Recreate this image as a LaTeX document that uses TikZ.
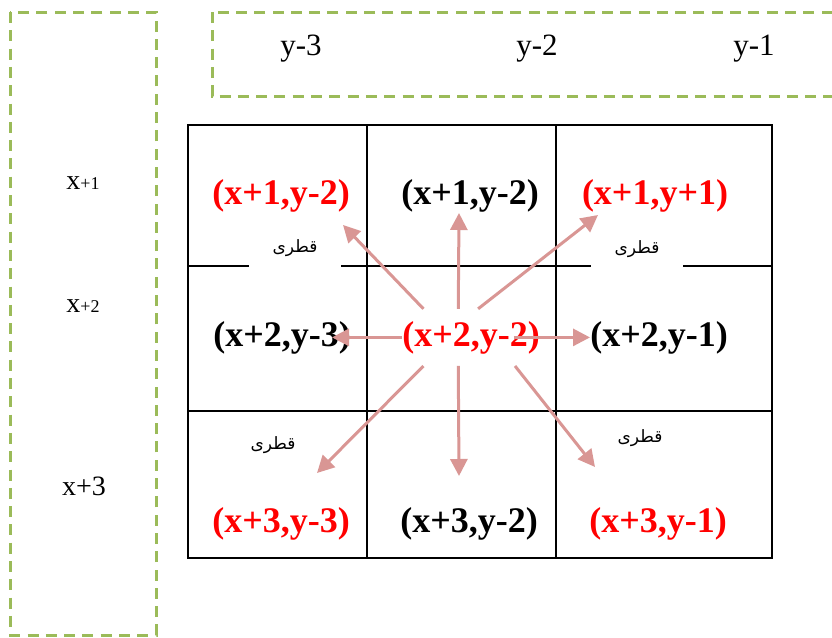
\documentclass[tikz,border=0pt]{standalone}
\usepackage{fontspec}
\setmainfont{Liberation Serif}
\newfontfamily\persianfont[Script=Arabic]{DejaVu Sans}
\TeXXeTstate=1
\usetikzlibrary{arrows.meta, positioning}
\definecolor{frameg}{RGB}{155, 187, 89}
\definecolor{hitred}{RGB}{255, 0, 0}
\definecolor{movepink}{RGB}{217, 150, 148}
\tikzstyle{cell}      = [anchor=base, font=\fontsize{36}{36}\selectfont\bfseries]
\tikzstyle{hit}       = [cell, text=hitred]
\tikzstyle{hub}       = [hit, inner ysep=12pt]
\tikzstyle{axislabel} = [anchor=base, font=\fontsize{31}{31}\selectfont]
\tikzstyle{rowlabel}  = [anchor=base, font=\fontsize{28}{28}\selectfont]
\tikzstyle{diag}      = [font=\persianfont\fontsize{17}{17}\selectfont]
\tikzstyle{gapbox}    = [diag, fill=white, minimum width=92pt, minimum height=42pt]
\tikzstyle{dashframe} = [draw=frameg, line width=3pt, dash pattern=on 11pt off 7.3pt]
\tikzstyle{tableline} = [draw=black, line width=1.8pt]
\tikzstyle{move}      = [-{Triangle[length=17pt, width=17pt]}, draw=movepink, line width=3pt]

\begin{document}
\begin{tikzpicture}[x=1pt, y=-1pt, every node/.style={inner sep=0pt}]
  \useasboundingbox (0,0) rectangle (832,637);

  % dashed frames
  \draw [dashframe] (10,12) rectangle (156,635);
  \draw [dashframe] (212,12) rectangle (850,96);

  % table
  \draw [tableline] (188,125) rectangle (772,558);
  \draw [tableline] (367,125) -- (367,558);
  \draw [tableline] (556,125) -- (556,558);
  \draw [tableline] (188,266) -- (772,266);
  \draw [tableline] (188,411) -- (772,411);

  % axis labels
  \node (ym3) [axislabel] at (301,55) {y-3};
  \node (ym2) [axislabel] at (537,55) {y-2};
  \node (ym1) [axislabel] at (754,55) {y-1};
  \node (xp1) [rowlabel] at (83,189) {x{\fontsize{18}{18}\selectfont +1}};
  \node (xp2) [rowlabel] at (83,312) {x{\fontsize{18}{18}\selectfont +2}};
  \node (xp3) [rowlabel] at (84,495) {x+3};

  % diagonal labels
  \node (dnw) [gapbox] at (295,248) {\beginR قطری\endR};
  \node (dne) [gapbox] at (637,249) {\beginR قطری\endR};
  \node (dsw) [diag] at (273,445) {\beginR قطری\endR};
  \node (dse) [diag] at (640,438) {\beginR قطری\endR};

  % cells
  \node (nw) [hit]  at (281,204) {(x+1,y-2)};
  \node (n)  [cell] at (470,204) {(x+1,y-2)};
  \node (ne) [hit]  at (655,204) {(x+1,y+1)};
  \node (w)  [cell] at (282,346) {(x+2,y-3)};
  \node (c)  [hub]  at (471,346) {(x+2,y-2)};
  \node (e)  [cell] at (659,346) {(x+2,y-1)};
  \node (sw) [hit]  at (281,532) {(x+3,y-3)};
  \node (s)  [cell] at (469,532) {(x+3,y-2)};
  \node (se) [hit]  at (658,532) {(x+3,y-1)};

  % arrow tips
  \coordinate (tUL) at (343,225);
  \coordinate (tU)  at (459,213);
  \coordinate (tUR) at (598,215);
  \coordinate (tL)  at (332,336);
  \coordinate (tR)  at (590,336);
  \coordinate (tDL) at (317,473);
  \coordinate (tD)  at (459,476);
  \coordinate (tDR) at (595,467);

  \draw [move] (c.149) -- (tUL);
  \draw [move] (c.114) -- (tU);
  \draw [move] (c.76)  -- (tUR);
  \draw [move] (c.west) -- (tL |- c.west);
  \draw [move] ([xshift=-26pt]c.east) -- (tR |- c.east);
  \draw [move] (c.211) -- (tDL);
  \draw [move] (c.246) -- (tD);
  \draw [move] (c.327) -- (tDR);
\end{tikzpicture}
\end{document}
